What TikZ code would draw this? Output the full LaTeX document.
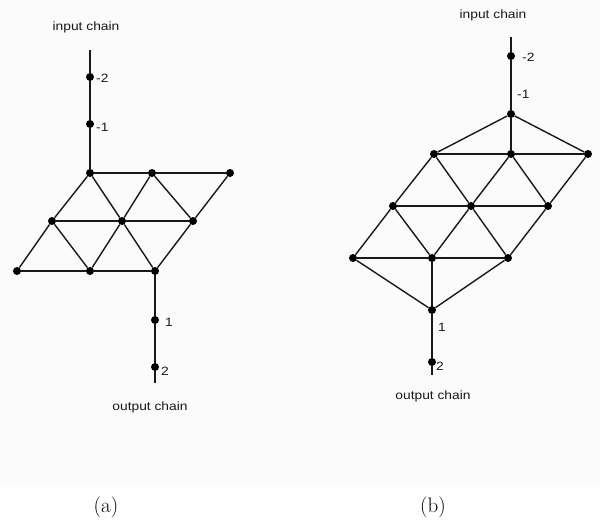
\documentclass[tikz,border=0pt]{standalone}
\usepackage{fontspec}
\newfontfamily\lab[FakeStretch=1.15]{Liberation Sans}
\begin{document}
\begin{tikzpicture}[x=1pt,y=-1pt,
  dot/.style={circle,fill=black,inner sep=0pt,minimum size=8pt},
  edge/.style={draw=black!90,line width=1.4pt},
  lbl/.style={font=\lab\fontsize{12}{14}\selectfont,text=black!90,inner sep=0pt},
  num/.style={lbl,anchor=west},
  captext/.style={font=\fontsize{21}{24}\selectfont,inner sep=0pt}]
\fill[black!1.5] (0,0) rectangle (600,485);
\useasboundingbox (0,0) rectangle (600,520);
% ---------- panel (a) ----------
\coordinate (atop) at (90,50);
\node[dot] (am2) at (90,77) {};
\node[dot] (am1) at (90,124) {};
\node[dot] (a11) at (90,173) {};
\node[dot] (a12) at (152,173) {};
\node[dot] (a13) at (230,173) {};
\node[dot] (a21) at (52,221) {};
\node[dot] (a22) at (122,221) {};
\node[dot] (a23) at (193,221) {};
\node[dot] (a31) at (17,271) {};
\node[dot] (a32) at (90,271) {};
\node[dot] (a33) at (155,271) {};
\node[dot] (a1) at (155,320) {};
\node[dot] (a2) at (155,367) {};
\coordinate (aend) at (155,383);
\draw[edge] (atop) -- (am2) -- (am1) -- (a11);
\draw[edge] (a11) -- (a12) -- (a13);
\draw[edge] (a21) -- (a22) -- (a23);
\draw[edge] (a31) -- (a32) -- (a33);
\draw[edge] (a11) -- (a21) -- (a31);
\draw[edge] (a12) -- (a22) -- (a32);
\draw[edge] (a13) -- (a23) -- (a33);
\draw[edge] (a11) -- (a22) -- (a33);
\draw[edge] (a21) -- (a32);
\draw[edge] (a12) -- (a23);
\draw[edge] (a33) -- (a1) -- (a2) -- (aend);
\node[lbl] (ain) at (86,27) {input chain};
\node[lbl] (aout) at (150,407) {output chain};
\node[num] (lam2) at (96,78) {-2};
\node[num] (lam1) at (96,127) {-1};
\node[num] (la1) at (165,322) {1};
\node[num] (la2) at (161,371) {2};
\node[captext] (capa) at (106,507) {(a)};
% ---------- panel (b) ----------
\coordinate (btop) at (511,37);
\node[dot] (bm2) at (511,56) {};
\node[dot] (b0) at (511,114) {};
\node[dot] (b21) at (434,154) {};
\node[dot] (b22) at (511,154) {};
\node[dot] (b23) at (588,154) {};
\node[dot] (b31) at (393,206) {};
\node[dot] (b32) at (471,206) {};
\node[dot] (b33) at (548,206) {};
\node[dot] (b41) at (353,258) {};
\node[dot] (b42) at (432,258) {};
\node[dot] (b43) at (508,258) {};
\node[dot] (b1) at (432,310) {};
\node[dot] (b2) at (432,362) {};
\coordinate (bend) at (432,375);
\draw[edge] (btop) -- (bm2) -- (b0);
\draw[edge] (b0) -- (b21);
\draw[edge] (b0) -- (b22);
\draw[edge] (b0) -- (b23);
\draw[edge] (b21) -- (b22) -- (b23);
\draw[edge] (b31) -- (b32) -- (b33);
\draw[edge] (b41) -- (b42) -- (b43);
\draw[edge] (b21) -- (b31) -- (b41);
\draw[edge] (b22) -- (b32) -- (b42);
\draw[edge] (b23) -- (b33) -- (b43);
\draw[edge] (b21) -- (b32) -- (b43);
\draw[edge] (b31) -- (b42);
\draw[edge] (b22) -- (b33);
\draw[edge] (b41) -- (b1);
\draw[edge] (b43) -- (b1);
\draw[edge] (b42) -- (b1);
\draw[edge] (b1) -- (b2) -- (bend);
\node[lbl] (bin) at (493,15) {input chain};
\node[lbl] (bout) at (433,396) {output chain};
\node[num] (lbm2) at (522,57) {-2};
\node[num] (lbm1) at (517,94) {-1};
\node[num] (lb1) at (438,327) {1};
\node[num] (lb2) at (436,366) {2};
\node[captext] (capb) at (433,507) {(b)};
\end{tikzpicture}
\end{document}
